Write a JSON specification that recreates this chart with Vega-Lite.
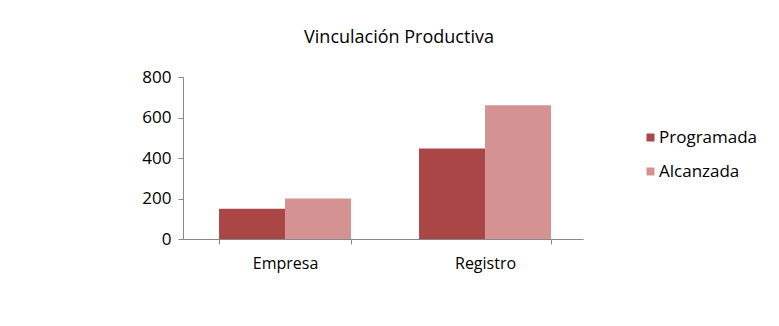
{
  "$schema": "https://vega.github.io/schema/vega-lite/v6.json",
  "width": 400,
  "height": 162,
  "autosize": "none",
  "padding": {"left": 183, "top": 77, "right": 196, "bottom": 87},
  "background": "white",
  "title": {
    "text": "Vinculación Productiva",
    "font": "Open Sans",
    "fontSize": 18,
    "fontWeight": "normal",
    "color": "#000000",
    "anchor": "middle",
    "dx": 16,
    "offset": 21
  },
  "data": {
    "values": [
      {"categoria": "Empresa", "serie": "Programada", "valor": 150},
      {"categoria": "Empresa", "serie": "Alcanzada", "valor": 200},
      {"categoria": "Registro", "serie": "Programada", "valor": 447},
      {"categoria": "Registro", "serie": "Alcanzada", "valor": 660}
    ]
  },
  "mark": {"type": "bar"},
  "encoding": {
    "x": {
      "field": "categoria",
      "type": "nominal",
      "sort": ["Empresa", "Registro"],
      "scale": {"paddingInner": 0.34, "paddingOuter": 0.17, "align": 0.53},
      "axis": {
        "title": null,
        "labelAngle": 0,
        "labelFont": "Open Sans",
        "labelFontSize": 16,
        "labelColor": "#000000",
        "labelPadding": 11,
        "tickBand": "extent",
        "tickSize": 5,
        "tickColor": "#888888",
        "domainColor": "#888888",
        "grid": false
      }
    },
    "xOffset": {
      "field": "serie",
      "type": "nominal",
      "sort": ["Programada", "Alcanzada"],
      "scale": {"paddingInner": 0, "paddingOuter": 0}
    },
    "y": {
      "field": "valor",
      "type": "quantitative",
      "scale": {"domain": [0, 800], "nice": false},
      "axis": {
        "title": null,
        "values": [0, 200, 400, 600, 800],
        "labelFont": "Open Sans",
        "labelFontSize": 17,
        "labelColor": "#000000",
        "labelPadding": 7,
        "tickSize": 5,
        "tickColor": "#888888",
        "domainColor": "#888888",
        "grid": false
      }
    },
    "color": {
      "field": "serie",
      "type": "nominal",
      "sort": ["Programada", "Alcanzada"],
      "scale": {"domain": ["Programada", "Alcanzada"], "range": ["#AA4646", "#D49292"]},
      "legend": {
        "title": null,
        "orient": "none",
        "legendX": 459,
        "legendY": 52,
        "symbolType": "square",
        "symbolSize": 64,
        "symbolStrokeWidth": 0,
        "labelFont": "Open Sans",
        "labelFontSize": 17,
        "labelColor": "#000000",
        "labelOffset": 0,
        "rowPadding": 16,
        "padding": 0
      }
    }
  },
  "config": {
    "view": {"stroke": null}
  }
}
